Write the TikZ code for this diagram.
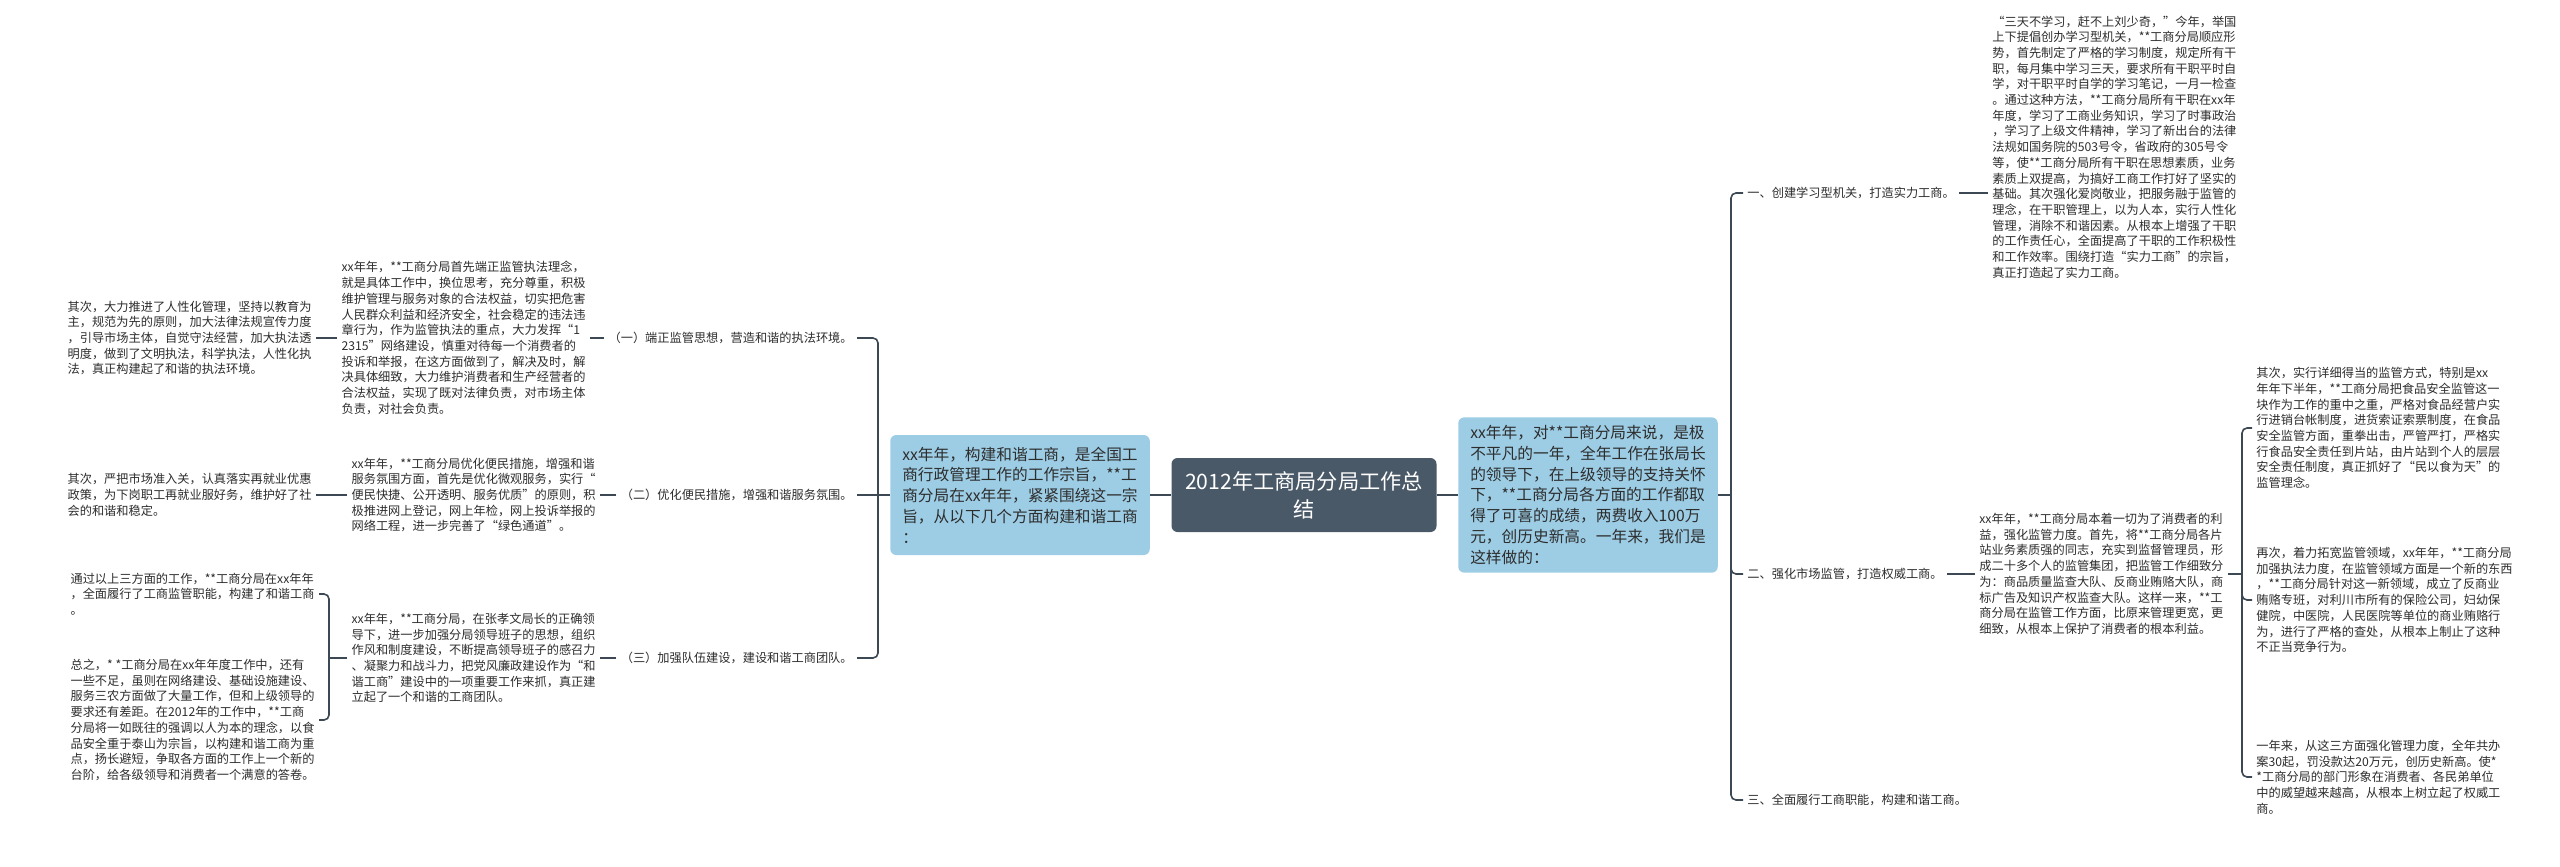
\documentclass[tikz,border=0pt]{standalone}
\usepackage{fontspec}
\setmainfont{Noto Sans CJK SC}
\definecolor{rootfill}{RGB}{74,89,104}
\definecolor{topicfill}{RGB}{157,205,229}
\definecolor{linkcol}{RGB}{60,72,84}
\definecolor{txtcol}{RGB}{45,45,45}

\begin{document}
\begin{tikzpicture}[x=0.5pt,y=-0.5pt,
root/.style = {rectangle, rounded corners=3pt, fill=rootfill, text=white, align=center,
               minimum width=132.5pt, minimum height=37pt, font=\fontsize{10.6pt}{14pt}\selectfont},
topic/.style = {rectangle, rounded corners=3pt, fill=topicfill, text=txtcol, align=left,
                inner xsep=6pt, inner ysep=4pt, font=\fontsize{7.85pt}{10.4pt}\selectfont},
leaf/.style = {align=left, text=txtcol, inner sep=2pt, font=\fontsize{6.1pt}{7.85pt}\selectfont},
line/.style = {draw=linkcol, line width=0.8pt, rounded corners=2.5pt}]

\useasboundingbox[fill=white] (0,0) rectangle (2560,867);

% centre
\node [root] (root) at (1304,495) {2012年工商局分局工作总\\结};
\node [topic, minimum height=60pt] (lmain) at (1020,495) {xx年年，构建和谐工商，是全国工\\
 商行政管理工作的工作宗旨，**工\\ 商分局在xx年年，紧紧围绕这一宗\\ 旨，从以下几个方面构建和谐工商\\ ：};
\node [topic] (rmain) at (1588,495) {xx年年，对**工商分局来说，是极\\
 不平凡的一年，全年工作在张局长\\ 的领导下，在上级领导的支持关怀\\ 下，**工商分局各方面的工作都取\\
 得了可喜的成绩，两费收入100万\\ 元，创历史新高。一年来，我们是\\ 这样做的：};

% left side, first level
\node [leaf, anchor=east] (lbl1) at (857,338) {（一）端正监管思想，营造和谐的执法环境。};
\node [leaf, anchor=east] (lbl2) at (857,495) {（二）优化便民措施，增强和谐服务氛围。};
\node [leaf, anchor=east] (lbl3) at (857,658) {（三）加强队伍建设，建设和谐工商团队。};
\coordinate (lj) at (878,495);

% left side, second level
\node [leaf, anchor=east] (txt1) at (590,338) {xx年年，**工商分局首先端正监管执法理念，\\
 就是具体工作中，换位思考，充分尊重，积极\\ 维护管理与服务对象的合法权益，切实把危害\\
 人民群众利益和经济安全，社会稳定的违法违\\ 章行为，作为监管执法的重点，大力发挥“1\\
 2315”网络建设，慎重对待每一个消费者的\\ 投诉和举报，在这方面做到了，解决及时，解\\
 决具体细致，大力维护消费者和生产经营者的\\ 合法权益，实现了既对法律负责，对市场主体\\ 负责，对社会负责。};
\node [leaf, anchor=east] (txt2) at (600,495) {xx年年，**工商分局优化便民措施，增强和谐\\
 服务氛围方面，首先是优化微观服务，实行“\\ 便民快捷、公开透明、服务优质”的原则，积\\
 极推进网上登记，网上年检，网上投诉举报的\\ 网络工程，进一步完善了“绿色通道”。};
\node [leaf, anchor=east] (txt3) at (600,658) {xx年年，**工商分局，在张孝文局长的正确领\\
 导下，进一步加强分局领导班子的思想，组织\\ 作风和制度建设，不断提高领导班子的感召力\\
 、凝聚力和战斗力，把党风廉政建设作为“和\\ 谐工商”建设中的一项重要工作来抓，真正建\\ 立起了一个和谐的工商团队。};
\coordinate (lj3) at (329,658);

% left side, third level
\node [leaf, anchor=east] (fl1) at (316,338) {其次，大力推进了人性化管理，坚持以教育为\\
 主，规范为先的原则，加大法律法规宣传力度\\ ，引导市场主体，自觉守法经营，加大执法透\\
 明度，做到了文明执法，科学执法，人性化执\\ 法，真正构建起了和谐的执法环境。};
\node [leaf, anchor=east] (fl2) at (316,495) {其次，严把市场准入关，认真落实再就业优惠\\
 政策，为下岗职工再就业服好务，维护好了社\\ 会的和谐和稳定。};
\node [leaf, anchor=east] (fl3) at (319,594) {通过以上三方面的工作，**工商分局在xx年年\\
 ，全面履行了工商监管职能，构建了和谐工商\\ 。};
\node [leaf, anchor=east] (fl4) at (319,720) {总之，* *工商分局在xx年年度工作中，还有\\
 一些不足，虽则在网络建设、基础设施建设、\\ 服务三农方面做了大量工作，但和上级领导的\\
 要求还有差距。在2012年的工作中，**工商\\ 分局将一如既往的强调以人为本的理念，以食\\
 品安全重于泰山为宗旨，以构建和谐工商为重\\ 点，扬长避短，争取各方面的工作上一个新的\\ 台阶，给各级领导和消费者一个满意的答卷。};

% right side, first level
\coordinate (rj) at (1731,495);
\node [leaf, anchor=west] (rl1) at (1743,193) {一、创建学习型机关，打造实力工商。};
\node [leaf, anchor=west] (rl2) at (1743,574) {二、强化市场监管，打造权威工商。};
\node [leaf, anchor=west] (rl3) at (1743,800) {三、全面履行工商职能，构建和谐工商。};

% right side, second level
\node [leaf, anchor=west] (rt1) at (1988,147) {“三天不学习，赶不上刘少奇，”今年，举国\\
 上下提倡创办学习型机关，**工商分局顺应形\\ 势，首先制定了严格的学习制度，规定所有干\\
 职，每月集中学习三天，要求所有干职平时自\\ 学，对干职平时自学的学习笔记，一月一检查\\
 。通过这种方法，**工商分局所有干职在xx年\\ 年度，学习了工商业务知识，学习了时事政治\\
 ，学习了上级文件精神，学习了新出台的法律\\ 法规如国务院的503号令，省政府的305号令\\
 等，使**工商分局所有干职在思想素质，业务\\ 素质上双提高，为搞好工商工作打好了坚实的\\
 基础。其次强化爱岗敬业，把服务融于监管的\\ 理念，在干职管理上，以为人本，实行人性化\\
 管理，消除不和谐因素。从根本上增强了干职\\ 的工作责任心，全面提高了干职的工作积极性\\
 和工作效率。围绕打造“实力工商”的宗旨，\\ 真正打造起了实力工商。};
\node [leaf, anchor=west] (rt2) at (1975,574) {xx年年，**工商分局本着一切为了消费者的利\\
 益，强化监管力度。首先，将**工商分局各片\\ 站业务素质强的同志，充实到监督管理员，形\\
 成二十多个人的监管集团，把监管工作细致分\\ 为：商品质量监查大队、反商业贿赂大队，商\\
 标广告及知识产权监查大队。这样一来，**工\\ 商分局在监管工作方面，比原来管理更宽，更\\ 细致，从根本上保护了消费者的根本利益。};
\coordinate (rj2) at (2242,574);

% right side, third level
\node [leaf, anchor=west] (rt3) at (2252,428) {其次，实行详细得当的监管方式，特别是xx\\
 年年下半年，**工商分局把食品安全监管这一\\ 块作为工作的重中之重，严格对食品经营户实\\
 行进销台帐制度，进货索证索票制度，在食品\\ 安全监管方面，重拳出击，严管严打，严格实\\
 行食品安全责任到片站，由片站到个人的层层\\ 安全责任制度，真正抓好了“民以食为天”的\\ 监管理念。};
\node [leaf, anchor=west] (rt4) at (2252,600) {再次，着力拓宽监管领域，xx年年，**工商分局\\
 加强执法力度，在监管领域方面是一个新的东西\\ ，**工商分局针对这一新领域，成立了反商业\\
 贿赂专班，对利川市所有的保险公司，妇幼保\\ 健院，中医院，人民医院等单位的商业贿赂行\\
 为，进行了严格的查处，从根本上制止了这种\\ 不正当竞争行为。};
\node [leaf, anchor=west] (rt5) at (2252,777) {一年来，从这三方面强化管理力度，全年共办\\
 案30起，罚没款达20万元，创历史新高。使*\\ *工商分局的部门形象在消费者、各民弟单位\\
 中的威望越来越高，从根本上树立起了权威工\\ 商。};

\begin{scope}[every path/.style=line]
\path (root) -- (lmain);
\path (root) -- (rmain);

\path (lmain) -- (lj);
\path (lj) |- (lbl1);
\path (lj) -- (lbl2);
\path (lj) |- (lbl3);
\path (lbl1) -- (txt1);
\path (lbl2) -- (txt2);
\path (lbl3) -- (txt3);
\path (txt1) -- (fl1);
\path (txt2) -- (fl2);
\path (txt3) -- (lj3);
\path (lj3) |- (fl3);
\path (lj3) |- (fl4);

\path (rmain) -- (rj);
\path (rj) |- (rl1);
\path (rj) |- (rl2);
\path (rj) |- (rl3);
\path (rl1) -- (rl1 -| rt1.west);
\path (rl2) -- (rt2);
\path (rt2) -- (rj2);
\path (rj2) |- (rt3);
\path (rj2) |- (rt4);
\path (rj2) |- (rt5);
\end{scope}
\end{tikzpicture}
\end{document}
